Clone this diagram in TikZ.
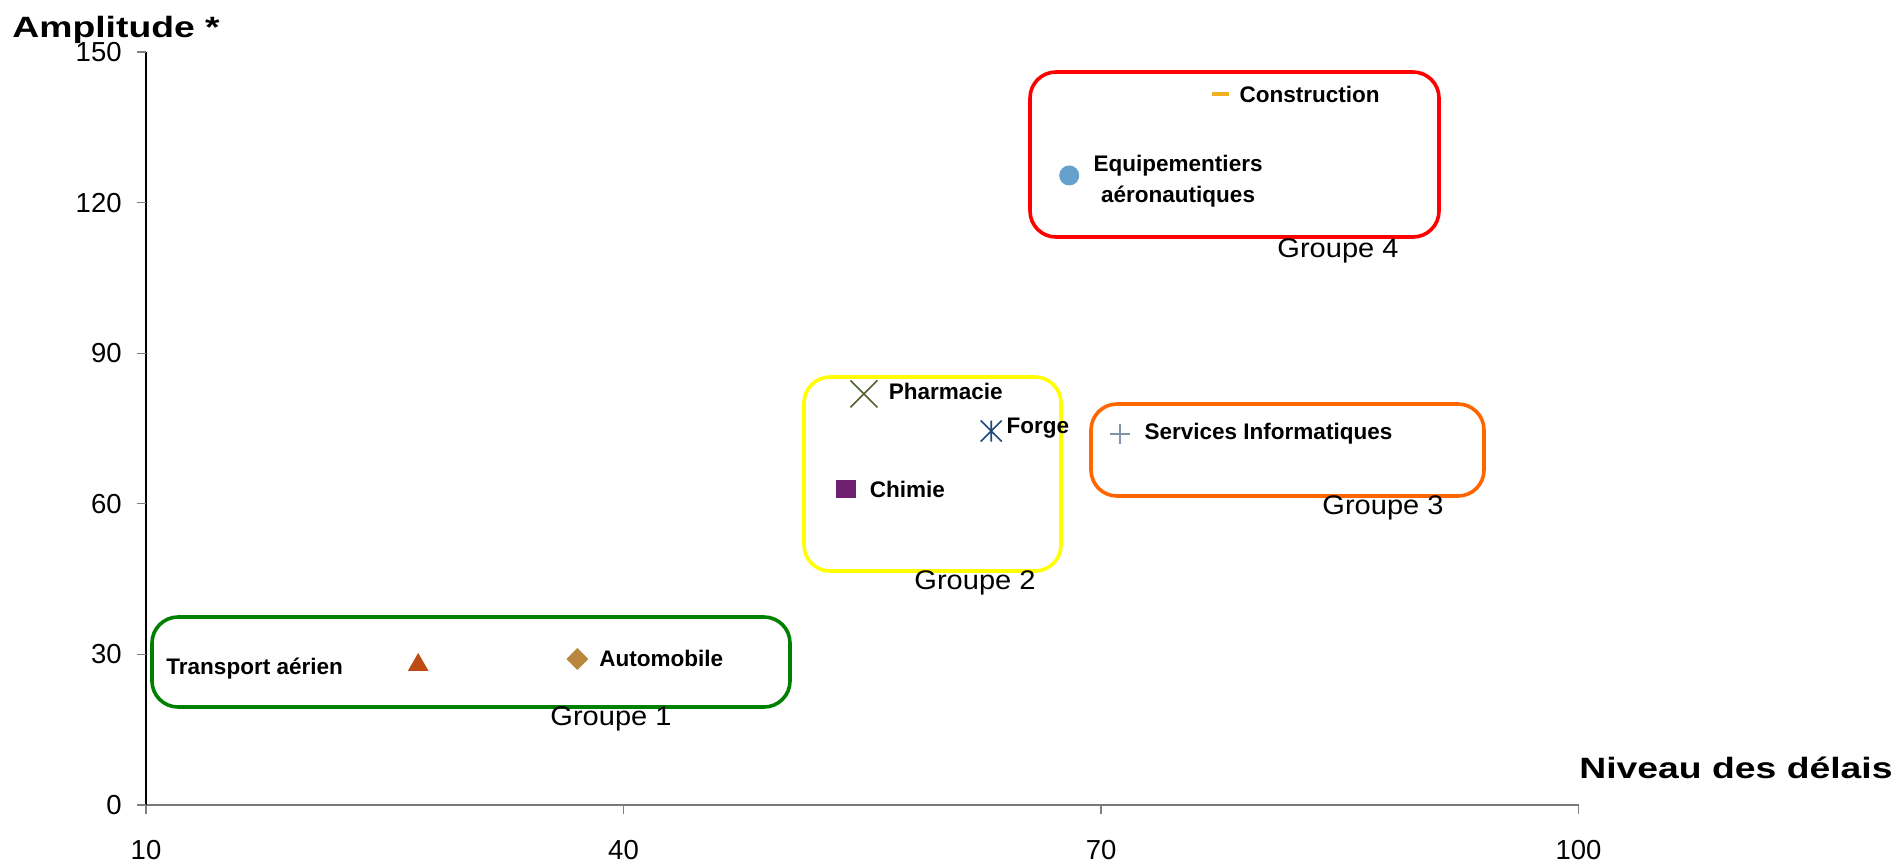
\documentclass[tikz,border=0pt]{standalone}
\usepackage{fontspec}
\setmainfont{Liberation Sans}
\newfontfamily\titlefont{Liberation Sans}[FakeStretch=1.27]
\newfontfamily\grpfont{Liberation Sans}[FakeStretch=1.08]
\usetikzlibrary{positioning,shapes.geometric,shapes.misc}
\definecolor{cGrp1}{RGB}{0,128,0}
\definecolor{cGrp2}{RGB}{255,255,0}
\definecolor{cGrp3}{RGB}{255,102,0}
\definecolor{cGrp4}{RGB}{255,0,0}
\definecolor{cConstr}{RGB}{240,176,32}
\definecolor{cEquip}{RGB}{102,160,204}
\definecolor{cPharma}{RGB}{79,98,40}
\definecolor{cForge}{RGB}{31,73,125}
\definecolor{cChimie}{RGB}{112,32,112}
\definecolor{cServ}{RGB}{130,148,170}
\definecolor{cTransp}{RGB}{190,75,20}
\definecolor{cAuto}{RGB}{185,135,60}
\tikzset{
  grpbox/.style={draw=#1, line width=1.8bp, rounded corners=13bp},
  grplabel/.style={font=\grpfont\fontsize{13.5}{15}\selectfont, inner sep=0pt},
  seclabel/.style={font=\fontsize{11.3}{15.5}\selectfont\bfseries, inner sep=0pt, align=center},
  ticklabel/.style={font=\fontsize{13.8}{16}\selectfont, inner sep=0pt},
  axistitle/.style={font=\titlefont\fontsize{14.75}{17}\selectfont\bfseries, inner sep=0pt},
  marker/.style={inner sep=0pt, outer sep=0pt},
  tick/.style={draw=gray, line width=0.6bp},
  strokes/.style={draw=#1, line width=0.8bp},
}

\begin{document}
\begin{tikzpicture}[x=0.5bp, y=-0.5bp]
\useasboundingbox (0,0) rectangle (1896,861);

%group boxes
\draw[grpbox=cGrp1] (152,617) rectangle (790,707);
\draw[grpbox=cGrp2] (804,377) rectangle (1061,571);
\draw[grpbox=cGrp3] (1091,404) rectangle (1484,496);
\draw[grpbox=cGrp4] (1030,72) rectangle (1439,237);
\node[grplabel] (g1) at (611,719) {Groupe 1};
\node[grplabel] (g2) at (975,583) {Groupe 2};
\node[grplabel] (g3) at (1383,508) {Groupe 3};
\node[grplabel] (g4) at (1338,251) {Groupe 4};

%axis titles
\node[axistitle, anchor=west] (ytitle) at (12,30) {Amplitude *};
\node[axistitle, anchor=east] (xtitle) at (1893,768) {Niveau des délais};

%data coordinates: x = délais, y = amplitude
\begin{scope}[shift={(-13.17,805)}, x=7.9585bp, y=2.51bp]
\draw[draw=gray!95!black, line width=0.8bp] (10,0) -- (100,0);
\draw[line width=0.7bp] (10,0) -- (10,150);
\foreach \v in {0,30,...,150}{
  \draw[tick] (10,\v) -- ++(-4.5bp,0);
  \node[ticklabel, anchor=east, name=yl\v] at ([xshift=-12bp]10,\v) {\v};
}
\foreach \v in {10,40,70,100}{
  \draw[tick] (\v,0) -- ++(0,-4.5bp);
  \node[ticklabel, name=xl\v] at ([yshift=-22.5bp]\v,0) {\v};
}

%secteurs
\node[marker, rectangle, fill=cConstr, minimum width=8.3bp, minimum height=2bp] (constr) at (77.5,141.6) {};
\node[seclabel, right=5.2bp of constr] (constrT) {Construction};

\node[marker, circle, fill=cEquip, minimum size=10bp] (equip) at (68,125.4) {};
\node[seclabel, right=7bp of equip, yshift=-3bp] (equipT) {Equipementiers\\aéronautiques};

\node[marker, cross out, strokes=cPharma, minimum size=13.5bp] (pharma) at (55.1,81.9) {};
\node[seclabel, right=5.5bp of pharma, yshift=1bp] (pharmaT) {Pharmacie};

\node[marker, rectangle, minimum size=10.5bp] (forge) at (63.1,74.5) {};
\draw[strokes=cForge] (forge.north) -- (forge.south)
  (forge.north east) -- (forge.south west) (forge.north west) -- (forge.south east);
\node[seclabel, right=2.2bp of forge, yshift=1.5bp] (forgeT) {Forge};

\node[marker, rectangle, fill=cChimie, minimum width=10bp, minimum height=9bp] (chimie) at (54,62.9) {};
\node[seclabel, right=6.5bp of chimie] (chimieT) {Chimie};

\node[marker, rectangle, minimum size=10bp] (serv) at (71.2,73.9) {};
\draw[strokes=cServ, line width=0.7bp] (serv.north) -- (serv.south) (serv.west) -- (serv.east);
\node[seclabel, right=7bp of serv] (servT) {Services Informatiques};

\node[marker, regular polygon, regular polygon sides=3, fill=cTransp, minimum size=12bp] (transp) at (27.1,27.9) {};
\node[seclabel, left=34bp of transp, yshift=-2bp] (transpT) {Transport aérien};

\node[marker, diamond, fill=cAuto, minimum size=11bp] (auto) at (37.1,29.1) {};
\node[seclabel, right=5.3bp of auto] (autoT) {Automobile};
\end{scope}
\end{tikzpicture}
\end{document}
